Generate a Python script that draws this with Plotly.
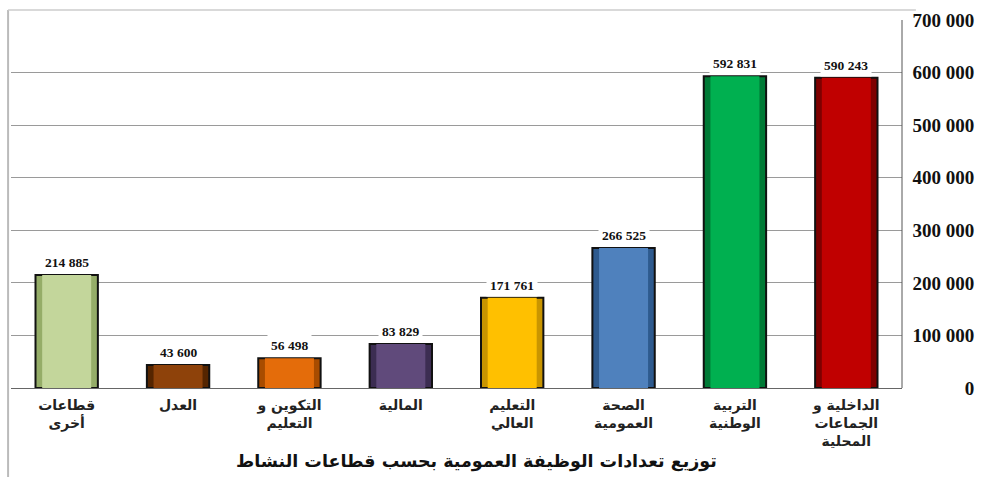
import plotly.graph_objects as go

# Public-service headcount by sector (read right to left)
sectors = [
    "الداخلية و<br>الجماعات<br>المحلية",
    "التربية<br>الوطنية",
    "الصحة<br>العمومية",
    "التعليم<br>العالي",
    "المالية",
    "التكوين و<br>التعليم",
    "العدل",
    "قطاعات<br>أخرى",
]
headcount = [590243, 592831, 266525, 171761, 83829, 56498, 43600, 214885]
fill_colors = ["#C00000", "#00B050", "#4F81BD", "#FFC000",
               "#604A7B", "#E46C0A", "#8E420A", "#C3D69B"]
edge_colors = ["#7E0000", "#007A36", "#2E5A8E", "#C99500",
               "#3C2D52", "#A84C00", "#552500", "#95AD68"]
y_ticks = [0, 100000, 200000, 300000, 400000, 500000, 600000, 700000]
title_text = "توزيع تعدادات الوظيفة العمومية بحسب قطاعات النشاط"

fig = go.Figure()

# darker shell with black outline, then a lighter core on top
fig.add_trace(go.Bar(
    x=sectors, y=headcount, width=0.56,
    marker=dict(color=edge_colors, line=dict(color="#111111", width=2)),
    hoverinfo="skip", showlegend=False,
))
fig.add_trace(go.Bar(
    x=sectors, y=headcount, width=0.44,
    marker=dict(color=fill_colors, line=dict(width=0)),
    showlegend=False,
))

# value labels on white boxes that interrupt the gridlines
for s, v in zip(sectors, headcount):
    fig.add_annotation(
        x=s, y=v, xref="x", yref="y",
        text="<b>" + f"{v:,}".replace(",", " ") + "</b>",
        showarrow=False, yanchor="bottom", yshift=1,
        bgcolor="white", borderpad=3,
        font=dict(family="Liberation Serif", size=13.5, color="#111111"),
    )

# bottom title
fig.add_annotation(
    x=0.478, y=-0.2, xref="paper", yref="paper",
    text="<b>" + title_text + "</b>", showarrow=False,
    xanchor="center", yanchor="middle",
    font=dict(family="DejaVu Sans", size=17.5, color="#111111"),
)

# outer frame (left and top) and right border of the plot area
fig.add_shape(type="line", xref="paper", yref="paper",
              x0=-0.003, x1=-0.003, y0=-0.25, y1=1.027,
              line=dict(color="#BBBBBB", width=2))
fig.add_shape(type="line", xref="paper", yref="paper",
              x0=-0.003, x1=0.93, y0=1.027, y1=1.027,
              line=dict(color="#CCCCCC", width=1.5))
fig.add_shape(type="line", xref="x domain", yref="y domain",
              x0=1, x1=1, y0=0, y1=1,
              line=dict(color="#555555", width=1))

fig.update_layout(
    width=994, height=477,
    margin=dict(l=11, r=10, t=14, b=89),
    paper_bgcolor="white", plot_bgcolor="white",
    barmode="overlay",
    separators=", ",
    xaxis=dict(
        domain=[0, 891 / 973],
        autorange="reversed",
        tickvals=sectors,
        ticktext=["<b>" + s.replace("<br>", "</b><br><b>") + "</b>" for s in sectors],
        showline=True, linecolor="#666666", linewidth=1,
        ticks="", showgrid=False, ticklabelstandoff=4,
        tickfont=dict(family="DejaVu Sans", size=14, color="#222222"),
    ),
    yaxis=dict(
        range=[0, 700000], tickvals=y_ticks,
        ticktext=["<b>" + f"{t:,}".replace(",", " ") + "</b>" for t in y_ticks],
        anchor="free", position=0.99, side="left",
        showline=False, ticks="",
        showgrid=True, gridcolor="#9A9A9A", gridwidth=1,
        zeroline=False,
        tickfont=dict(family="Liberation Serif", size=19, color="#111111"),
    ),
)

fig.write_html("out.html")
